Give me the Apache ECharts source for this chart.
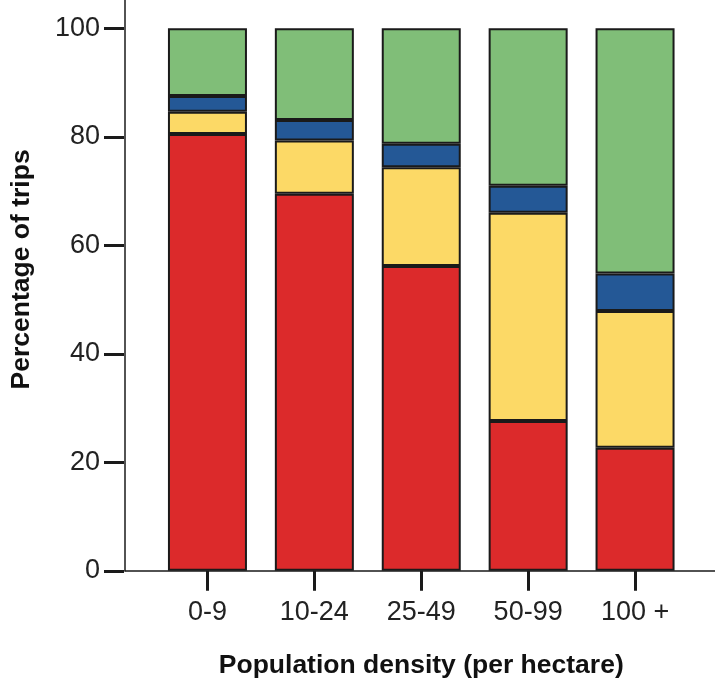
<!DOCTYPE html>
<html><head><meta charset="utf-8">
<script src="https://cdn.jsdelivr.net/npm/echarts@6/dist/echarts.min.js"></script>
<style>html,body{margin:0;padding:0;background:#fff}#c{width:715px;height:688px}</style>
</head><body><div id="c"></div>
<script>
const categories = ['0-9', '10-24', '25-49', '50-99', '100 +'];
const redValues = [80.5, 69.5, 56.2, 27.6, 22.7];
const yellowValues = [4.1, 9.8, 18.2, 38.4, 25.2];
const blueValues = [2.9, 3.8, 4.3, 5.0, 6.9];
const greenValues = [12.5, 16.9, 21.3, 29.0, 45.2];
const yTicks = [0, 20, 40, 60, 80, 100];

const FONT = '"Liberation Sans Narrow", "Liberation Sans", Arial, sans-serif';
const border = { borderColor: '#1a1a1a', borderWidth: 2 };
function bar(name, data, color) {
  return { name, type: 'bar', stack: 'all', data, barWidth: 79,
    itemStyle: Object.assign({ color }, border), xAxisIndex: 0, yAxisIndex: 0 };
}
const chart = echarts.init(document.getElementById('c'), null, { renderer: 'canvas' });
chart.setOption({
  animation: false,
  grid: [
    { left: 154, right: 26.5, top: 28.3, bottom: 117.2, containLabel: false },
    { left: 124, right: 0, top: 0, bottom: 117.2, containLabel: false }
  ],
  xAxis: [
    { type: 'category', data: categories, gridIndex: 0,
      axisLine: { show: false },
      axisTick: { show: true, alignWithLabel: true, length: 20, lineStyle: { color: '#1a1a1a', width: 3 } },
      axisLabel: { interval: 0, color: '#222', fontFamily: FONT, fontSize: 27, margin: 28 },
      name: 'Population density (per hectare)', nameLocation: 'middle', nameGap: 81,
      nameTextStyle: { fontFamily: FONT, fontWeight: 'bold', fontSize: 26.5, color: '#111' } },
    { type: 'value', gridIndex: 1, min: 0, max: 1,
      axisLine: { show: true, lineStyle: { color: '#1a1a1a', width: 1.5 } },
      axisTick: { show: false }, axisLabel: { show: false }, splitLine: { show: false } }
  ],
  yAxis: [
    { type: 'value', gridIndex: 0, min: 0, max: 100, interval: 20, offset: 30,
      axisLine: { show: false },
      axisTick: { show: true, length: 20, lineStyle: { color: '#1a1a1a', width: 3 } },
      axisLabel: { color: '#222', fontFamily: FONT, fontSize: 27, margin: 24,
        customValues: yTicks },
      splitLine: { show: false } },
    { type: 'value', gridIndex: 1, min: 0, max: 1,
      axisLine: { show: true, lineStyle: { color: '#1a1a1a', width: 1.5 } },
      axisTick: { show: false }, axisLabel: { show: false }, splitLine: { show: false },
      name: 'Percentage of trips', nameLocation: 'middle', nameGap: 90, nameRotate: 90,
      nameTextStyle: { fontFamily: FONT, fontWeight: 'bold', fontSize: 26.5, color: '#111', padding: [0, 0, 0, 32] } }
  ],
  series: [
    bar('red', redValues, '#DC2A2B'),
    bar('yellow', yellowValues, '#FCD966'),
    bar('blue', blueValues, '#245896'),
    bar('green', greenValues, '#80BE78')
  ]
});
</script></body></html>
